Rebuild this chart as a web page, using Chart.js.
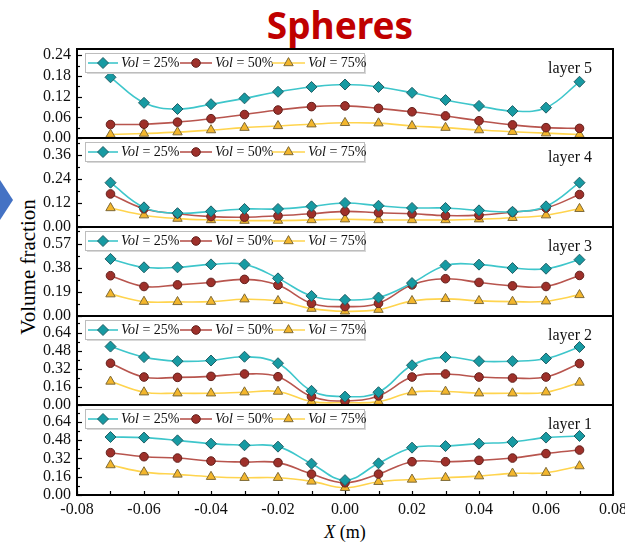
<!DOCTYPE html>
<html><head><meta charset="utf-8">
<script src="https://cdn.jsdelivr.net/npm/chart.js@4.4.1/dist/chart.umd.min.js"></script>
<style>
html,body{margin:0;padding:0;background:#fff;overflow:hidden;width:625px;height:544px;}
#wrap{position:relative;width:625px;height:544px;overflow:hidden;}
#wrap canvas{position:absolute;left:0;}
#title{position:absolute;left:240px;width:200px;top:-1px;line-height:37px;text-align:center;font:bold 37px "Noto Sans",sans-serif;color:#C00000;}
#ytitle{position:absolute;left:-71px;top:254px;width:200px;height:26px;line-height:26px;text-align:center;font:21px "Liberation Serif",serif;color:#000;transform:rotate(-90deg);}
#xtitle{position:absolute;left:245px;width:200px;top:522px;line-height:22px;text-align:center;font:18px "Liberation Serif",serif;color:#000;}
#arrow{position:absolute;left:0;top:180px;width:0;height:0;border-top:20px solid transparent;border-bottom:20px solid transparent;border-left:13px solid #4472C4;}
</style></head>
<body><div id="wrap">
<div id="title">Spheres</div>
<div id="arrow"></div>
<div id="ytitle">Volume fraction</div>
<div id="xtitle"><i>X</i> (m)</div>
</div>
<script>
// ---- data ----
const xValues = [-0.07,-0.06,-0.05,-0.04,-0.03,-0.02,-0.01,0.00,0.01,0.02,0.03,0.04,0.05,0.06,0.07];
const seriesNames = ['25%','50%','75%'];
const layerNames = ['layer 5','layer 4','layer 3','layer 2','layer 1'];

const layer5_25 = [0.176,0.102,0.084,0.098,0.115,0.134,0.148,0.155,0.148,0.131,0.110,0.093,0.078,0.088,0.163];
const layer5_50 = [0.039,0.040,0.046,0.056,0.068,0.081,0.091,0.093,0.086,0.076,0.064,0.050,0.038,0.030,0.028];
const layer5_75 = [0.010,0.013,0.017,0.023,0.030,0.035,0.040,0.044,0.043,0.035,0.030,0.023,0.018,0.014,0.010];

const layer4_25 = [0.221,0.098,0.069,0.078,0.090,0.090,0.103,0.120,0.106,0.095,0.095,0.083,0.076,0.103,0.221];
const layer4_50 = [0.165,0.091,0.066,0.052,0.049,0.056,0.066,0.078,0.071,0.066,0.057,0.059,0.074,0.095,0.162];
const layer4_75 = [0.095,0.059,0.042,0.035,0.032,0.032,0.035,0.039,0.035,0.035,0.035,0.039,0.046,0.059,0.091];

const layer3_25 = [0.449,0.383,0.383,0.406,0.406,0.296,0.158,0.127,0.145,0.259,0.398,0.404,0.377,0.372,0.443];
const layer3_50 = [0.317,0.232,0.245,0.264,0.288,0.243,0.100,0.074,0.100,0.245,0.293,0.264,0.237,0.232,0.319];
const layer3_75 = [0.172,0.113,0.111,0.113,0.132,0.119,0.058,0.037,0.050,0.119,0.135,0.119,0.113,0.116,0.166];

const layer2_25 = [0.516,0.423,0.387,0.393,0.426,0.369,0.125,0.074,0.113,0.351,0.423,0.387,0.387,0.411,0.512];
const layer2_50 = [0.369,0.247,0.244,0.253,0.274,0.250,0.074,0.036,0.080,0.247,0.274,0.247,0.238,0.247,0.366];
const layer2_75 = [0.208,0.113,0.104,0.104,0.113,0.119,0.030,0.021,0.030,0.113,0.119,0.104,0.104,0.113,0.199];

const layer1_25 = [0.507,0.502,0.478,0.449,0.435,0.423,0.274,0.130,0.277,0.414,0.428,0.449,0.464,0.502,0.516];
const layer1_50 = [0.370,0.335,0.323,0.297,0.288,0.283,0.183,0.107,0.183,0.291,0.291,0.303,0.323,0.362,0.393];
const layer1_75 = [0.262,0.200,0.180,0.160,0.151,0.151,0.119,0.063,0.116,0.136,0.151,0.165,0.189,0.195,0.253];

const yMaxes = [0.258, 0.444, 0.70, 0.786, 0.787];
const yStepsTicks = [0.06, 0.12, 0.19, 0.16, 0.16];
const xTickStep = 0.02;

// ---- styling / layout ----
const panelData = [
  [layer5_25,layer5_50,layer5_75],
  [layer4_25,layer4_50,layer4_75],
  [layer3_25,layer3_50,layer3_75],
  [layer2_25,layer2_50,layer2_75],
  [layer1_25,layer1_50,layer1_75]
];
const tops = [49,138,227,316,405];
const bottoms = [138,227,316,405,495];
const styles = [
  {line:'#3EC6CB', fill:'#179AA2', border:'#215F66', pt:'rectRot', r:5.5},
  {line:'#B8554E', fill:'#9E302A', border:'#62211D', pt:'circle', r:4.3},
  {line:'#FFD44E', fill:'#F3B62C', border:'#7E6A38', pt:'triangle', r:5.4}
];
const SERIF = '"Liberation Serif", "Times New Roman", serif';
const PADT = 12, CW = 640, LEFTW = 77, RIGHT = 613, XAXH = 30;

const panelPlugin = {
  id:'panelDeco',
  afterDraw(chart, args, o){
    const {ctx, chartArea:a, scales} = chart;
    ctx.save();
    ctx.strokeStyle = '#000';
    ctx.lineWidth = 1.2;
    const ys = scales.y, half = o.step/2;
    for(let i=0; i*half <= ys.max + 1e-9; i++){
      const py = Math.round(ys.getPixelForValue(i*half)) + 0.5;
      const len = (i%2===0) ? 5 : 3;
      ctx.beginPath(); ctx.moveTo(a.left, py); ctx.lineTo(a.left+len, py); ctx.stroke();
    }
    if(o.bottom){
      const xs = scales.x;
      for(let i=-8;i<=8;i++){
        const px = Math.round(xs.getPixelForValue(i/100)) + 0.5;
        ctx.beginPath(); ctx.moveTo(px, a.bottom); ctx.lineTo(px, a.bottom-4); ctx.stroke();
      }
    }
    ctx.lineWidth = 2;
    ctx.strokeRect(a.left, a.top, a.right-a.left, a.bottom-a.top);

    // legend box
    const bx = a.left + 8, by = a.top + 4, bw = 279, bh = 19;
    ctx.fillStyle = '#d8d8d8';
    ctx.fillRect(bx+2, by+2, bw, bh);
    ctx.fillStyle = '#fff';
    ctx.fillRect(bx, by, bw, bh);
    ctx.lineWidth = 1;
    ctx.strokeStyle = '#bdbdbd';
    ctx.strokeRect(bx+0.5, by+0.5, bw, bh);
    const cy = by + bh/2 + 0.5;
    const entries = [{x0:88,x1:118,tx:121},{x0:180,x1:212,tx:215},{x0:272,x1:305,tx:308}];
    entries.forEach((e,k)=>{
      const s = styles[k];
      ctx.strokeStyle = s.line; ctx.lineWidth = 1.6;
      ctx.beginPath(); ctx.moveTo(e.x0, cy); ctx.lineTo(e.x1, cy); ctx.stroke();
      ctx.fillStyle = s.fill; ctx.strokeStyle = s.border; ctx.lineWidth = 1;
      Chart.helpers.drawPoint(ctx, {pointStyle:s.pt, radius:s.r, borderWidth:1, rotation:0}, (e.x0+e.x1)/2, cy);
      ctx.fillStyle = '#111';
      ctx.textBaseline = 'middle';
      ctx.textAlign = 'left';
      ctx.font = 'italic 14px ' + SERIF;
      ctx.fillText('Vol', e.tx, cy+0.5);
      const w = ctx.measureText('Vol').width;
      ctx.font = '14px ' + SERIF;
      ctx.fillText(' = ' + seriesNames[k], e.tx + w, cy+0.5);
    });
    // layer label
    ctx.fillStyle = '#111';
    ctx.font = '16px ' + SERIF;
    ctx.textAlign = 'right';
    ctx.textBaseline = 'middle';
    ctx.fillText(o.label, 592, a.top + 20);
    ctx.restore();
  }
};

const wrap = document.getElementById('wrap');
panelData.forEach((series, p)=>{
  const isBottom = (p === 4);
  const ph = bottoms[p] - tops[p];
  const cv = document.createElement('canvas');
  const h = isBottom ? PADT + ph + XAXH : PADT + ph + PADT;
  cv.width = CW; cv.height = h;
  cv.style.width = CW+'px'; cv.style.height = h+'px';
  cv.style.top = (tops[p] - PADT) + 'px';
  wrap.appendChild(cv);
  const datasets = series.map((vals,k)=>({
    label: 'Vol = ' + seriesNames[k],
    data: xValues.map((x,i)=>({x:x, y:vals[i]})),
    borderColor: styles[k].line,
    borderWidth: 1.6,
    backgroundColor: styles[k].fill,
    pointBackgroundColor: styles[k].fill,
    pointBorderColor: styles[k].border,
    pointBorderWidth: 1,
    pointStyle: styles[k].pt,
    pointRadius: styles[k].r,
    tension: 0.4,
    clip: 10,
    fill: false,
    order: k
  })).reverse();
  new Chart(cv, {
    type:'line',
    data:{datasets},
    options:{
      responsive:false, animation:false, devicePixelRatio:1,
      layout:{padding:{top:PADT, bottom:isBottom?0:PADT, left:0, right:CW-RIGHT}},
      plugins:{legend:{display:false}, tooltip:{enabled:false}, title:{display:false},
               panelDeco:{step:yStepsTicks[p], bottom:isBottom, label:layerNames[p]}},
      scales:{
        x:{type:'linear', min:-0.08, max:0.08, display:isBottom,
           grid:{display:false, drawTicks:false}, border:{display:false},
           ticks:{stepSize:xTickStep, includeBounds:false, padding:5, color:'#111',
                  font:{family:SERIF, size:16},
                  callback:v=>Number(v).toFixed(2), maxRotation:0, autoSkip:false},
           afterFit:s=>{ if(isBottom){ s.height = XAXH; } else { s.height = 0; }
                         s.paddingLeft = 0; s.paddingRight = 0; s.paddingTop = 0; s.paddingBottom = 0; }},
        y:{type:'linear', min:0, max:yMaxes[p],
           grid:{display:false, drawTicks:false}, border:{display:false},
           ticks:{stepSize:yStepsTicks[p], includeBounds:false, padding:6, color:'#111',
                  font:{family:SERIF, size:16}, autoSkip:false,
                  callback:v=>Number(v).toFixed(2)},
           afterFit:s=>{s.width = LEFTW; s.paddingTop = 0; s.paddingBottom = 0; s.paddingLeft = 0; s.paddingRight = 0;}}
      }
    },
    plugins:[panelPlugin]
  });
});
</script>
</body></html>
